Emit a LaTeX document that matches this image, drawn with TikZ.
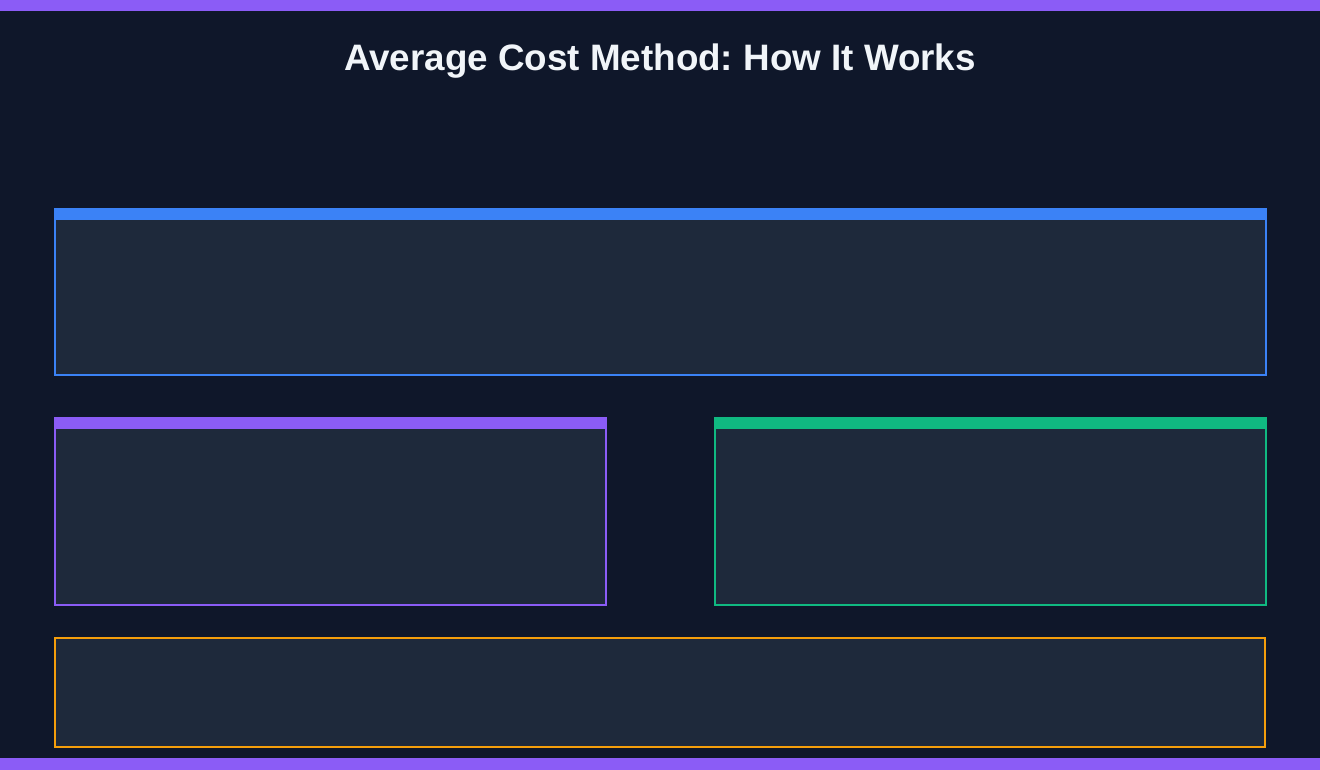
\documentclass[tikz,border=0pt]{standalone}
\usepackage{fontspec}
\setmainfont{Liberation Sans}
\frenchspacing
\definecolor{bg}{HTML}{0F172A}
\definecolor{panel}{HTML}{1E293B}
\definecolor{cblue}{HTML}{3B82F6}
\definecolor{cpurple}{HTML}{8B5CF6}
\definecolor{cgreen}{HTML}{10B981}
\definecolor{corange}{HTML}{F59E0B}
\definecolor{ctitle}{HTML}{F1F5F9}
\begin{document}
\begin{tikzpicture}[x=1pt,y=-1pt,
  panelbox/.style={fill=panel,draw=#1,line width=2pt},
  headband/.style={fill=#1,draw=none},
  titletext/.style={font=\bfseries\fontsize{36.8}{40}\selectfont,text=ctitle,anchor=base}]
\useasboundingbox (0,0) rectangle (1320,770);
\fill[bg] (0,0) rectangle (1320,770);
\fill[cpurple] (0,0) rectangle (1320,11);
\fill[cpurple] (0,758) rectangle (1320,770);
\node[titletext] (title) at (660,71) {Average Cost Method: How It Works};
% blue panel
\draw[panelbox=cblue] (55,209) rectangle (1266,375);
\fill[headband=cblue] (54,208) rectangle (1267,220);
% purple panel
\draw[panelbox=cpurple] (55,418) rectangle (606,605);
\fill[headband=cpurple] (54,417) rectangle (607,429);
% green panel
\draw[panelbox=cgreen] (715,418) rectangle (1266,605);
\fill[headband=cgreen] (714,417) rectangle (1267,429);
% orange panel
\draw[fill=panel,draw=corange,line width=1.5pt] (55,638) rectangle (1265,747);
\end{tikzpicture}
\end{document}
